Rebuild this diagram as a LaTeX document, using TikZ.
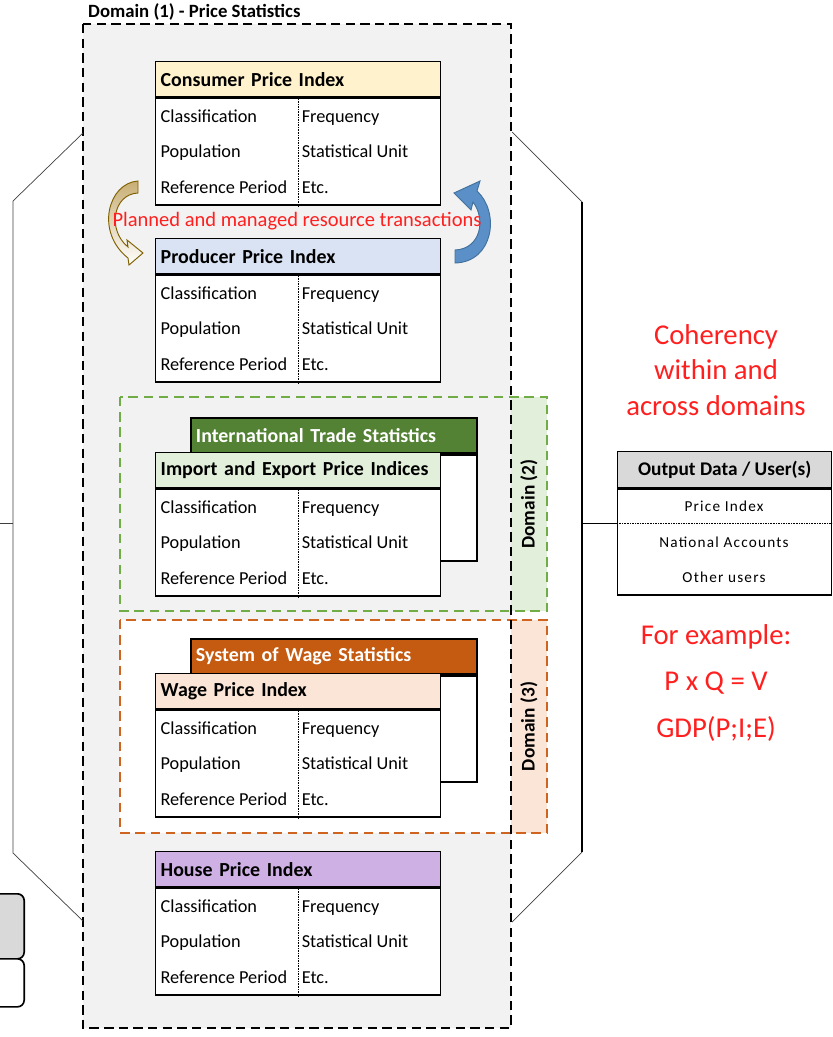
\documentclass[tikz,border=0pt]{standalone}
\usepackage{fontspec}
\setmainfont{Carlito}
\newfontfamily\spacedfont[LetterSpace=8]{Carlito}
\usepackage{xcolor}
\usetikzlibrary{positioning}

\definecolor{bggray}{HTML}{F2F2F2}
\definecolor{cpiclr}{HTML}{FFF2CC}
\definecolor{ppiclr}{HTML}{DAE3F3}
\definecolor{iepclr}{HTML}{E2EFDA}
\definecolor{wpiclr}{HTML}{FBE5D6}
\definecolor{hpiclr}{HTML}{CEB0E5}
\definecolor{itsclr}{HTML}{548235}
\definecolor{swsclr}{HTML}{C55A11}
\definecolor{dtwoline}{HTML}{70AD47}
\definecolor{dthreeline}{HTML}{CF6420}
\definecolor{outclr}{HTML}{D9D9D9}
\definecolor{redtxt}{HTML}{FF1F1F}
\definecolor{golddark}{HTML}{7F6000}
\definecolor{goldfill}{HTML}{C8AE74}
\definecolor{bluefill}{HTML}{5B8FC7}
\definecolor{bluedark}{HTML}{41719C}

\begin{document}
\begin{tikzpicture}[x=0.03cm,y=-0.03cm,
  tabhead/.style={draw=black,line width=1.2pt,fill=#1,anchor=north west,minimum height=1.05cm,text width=8.25cm,inner xsep=0.15cm,align=left,font=\fontsize{17}{20}\selectfont\bfseries},
  tabbody/.style={draw=black,line width=1.2pt,fill=white,minimum width=8.55cm,minimum height=3.21cm,inner sep=0pt},
  backhead/.style={draw=black,line width=1.6pt,fill=#1,anchor=north west,minimum height=1.05cm,text width=8.28cm,inner xsep=0.15cm,align=left,text=white,font=\fontsize{17}{20}\selectfont\bfseries},
  backbody/.style={draw=black,line width=1.6pt,fill=white,minimum width=8.58cm,minimum height=3.18cm,inner sep=0pt},
  rowtext/.style={anchor=base west,inner xsep=2pt,font=\fontsize{15.6}{18}\selectfont},
  domlabel/.style={rotate=90,minimum width=6.4cm,minimum height=1.08cm,inner sep=0pt,font=\fontsize{16.5}{19}\selectfont\bfseries},
  outtext/.style={font=\spacedfont\fontsize{13}{15}\selectfont},
  bracket/.style={line width=0.6pt,black!75},
  redlabel/.style={text=redtxt,align=center}]

  \useasboundingbox (0,0) rectangle (832,1037);
  \clip (0,0) rectangle (832,1037);

  % domain (1) background
  \fill[bggray] (83,24) rectangle (511,1028);
  \node[anchor=west,inner sep=0pt,font=\fontsize{16}{19}\selectfont\bfseries] (dom1-title) at (88,12) {Domain (1) - Price Statistics};

  % domain (2) and (3)
  \fill[white] (120,620) rectangle (511,833);
  \node[domlabel,fill=iepclr] (dom2-lab) at (529,504) {Domain (2)};
  \node[domlabel,fill=wpiclr] (dom3-lab) at (529,726.5) {Domain (3)};
  \draw[dtwoline,line width=1.5pt,dash pattern=on 8pt off 5pt] (120,397) rectangle (547,611);
  \draw[dthreeline,line width=1.5pt,dash pattern=on 8pt off 5pt] (120,620) rectangle (547,833);
  \draw[line width=1.8pt,dash pattern=on 8pt off 4.5pt] (83,24) rectangle (511,1028);

  % brackets
  \coordinate (la) at (83,133);
  \coordinate (lb) at (13,201);
  \coordinate (lc) at (13,853);
  \coordinate (ld) at (83,921);
  \coordinate (le) at (0,523);
  \draw[bracket] (la) -- (lb) -- (lc) -- (ld);
  \draw[bracket] (le) -- (le -| lb);
  \coordinate (ra) at (512,132);
  \coordinate (rb) at (582,202);
  \coordinate (rc) at (582,852);
  \coordinate (rd) at (512,922);
  \coordinate (re) at (582,523);
  \draw[bracket] (ra) -- (rb);
  \draw[black,line width=1.3pt] (rb) -- (rc);
  \draw[bracket] (rc) -- (rd);

  % boxes at the left edge
  \node[draw,line width=1.4pt,rounded corners=0.2cm,fill=outclr,anchor=north east,minimum width=2cm,minimum height=1.95cm] (side-a) at (25,893) {};
  \node[draw,line width=1.4pt,rounded corners=0.2cm,fill=white,anchor=north east,minimum width=2cm,minimum height=1.44cm] (side-b) at (25,958) {};

  % back boxes
  \node[backhead=itsclr] (its-h) at (190,417) {International Trade Statistics};
  \node[backbody,below=0pt of its-h] (its-b) {};
  \node[backhead=swsclr] (sws-h) at (190,638) {System of Wage Statistics};
  \node[backbody,below=0pt of sws-h] (sws-b) {};

  % tables
  \foreach \nm/\ty/\col/\ttl in {cpi/61/cpiclr/Consumer Price Index,ppi/238/ppiclr/Producer Price Index,iep/452/iepclr/Import and Export Price Indices,wpi/673/wpiclr/Wage Price Index,hpi/851/hpiclr/House Price Index}{
    \node[tabhead=\col] (\nm-h) at (155,\ty) {\ttl};
    \node[tabbody,below=0pt of \nm-h] (\nm-b) {};
    \draw[densely dotted] (\nm-b.north) -- (\nm-b.south);
    \foreach \lt/\rt/\dy [count=\i] in {Classification/Frequency/25,Population/Statistical Unit/60.5,Reference Period/Etc./96}{
      \path (\nm-b.north west) ++(3,\dy) node[rowtext] (\nm-l\i) {\lt};
      \path (\nm-b.north) ++(1,\dy) node[rowtext] (\nm-r\i) {\rt};
    }
  }

  % resource arrows
  \draw[golddark,line width=0.8pt,top color=goldfill,bottom color=white]
    (138,181) .. controls (108,183) and (95,232) .. (128,258) -- (129,265) -- (143,253) -- (127,240) -- (128,247)
    .. controls (107,230) and (113,194) .. (138,193) -- cycle;
  \draw[bluedark,line width=0.8pt,fill=bluefill]
    (455,263) .. controls (494,262) and (500,212) .. (477,191) -- (480,181) -- (454,193) -- (471,210) -- (473,202)
    .. controls (486,219) and (481,249) .. (455,250) -- cycle;
  \node[redlabel,font=\fontsize{17.5}{20}\selectfont] (transact) at (297,221) {Planned and managed resource transactions};

  % output
  \node[draw,line width=1.2pt,fill=outclr,anchor=north west,minimum width=6.42cm,minimum height=1.08cm,font=\fontsize{16.5}{19}\selectfont\bfseries] (out-h) at (617,451) {Output Data / User(s)};
  \node[draw,line width=1.2pt,fill=white,minimum width=6.42cm,minimum height=3.18cm,below=0pt of out-h] (out-b) {};
  \node[outtext] (out-r1) at (724,506) {Price Index};
  \node[outtext] (out-r2) at (724,542) {National Accounts};
  \node[outtext] (out-r3) at (724,577) {Other users};
  \coordinate (od) at (617,523);
  \draw[densely dotted] (od) -- (od -| out-b.east);
  \draw[black,line width=0.8pt] (re) -- (od);

  \node[redlabel,font=\fontsize{24.5}{30.6}\selectfont] (coherency) at (716,370) {Coherency\\within and\\across domains};
  \node[redlabel,font=\fontsize{24.5}{40}\selectfont] (example) at (716,683) {For example:\\P x Q = V\\GDP(P;I;E)};
\end{tikzpicture}
\end{document}
